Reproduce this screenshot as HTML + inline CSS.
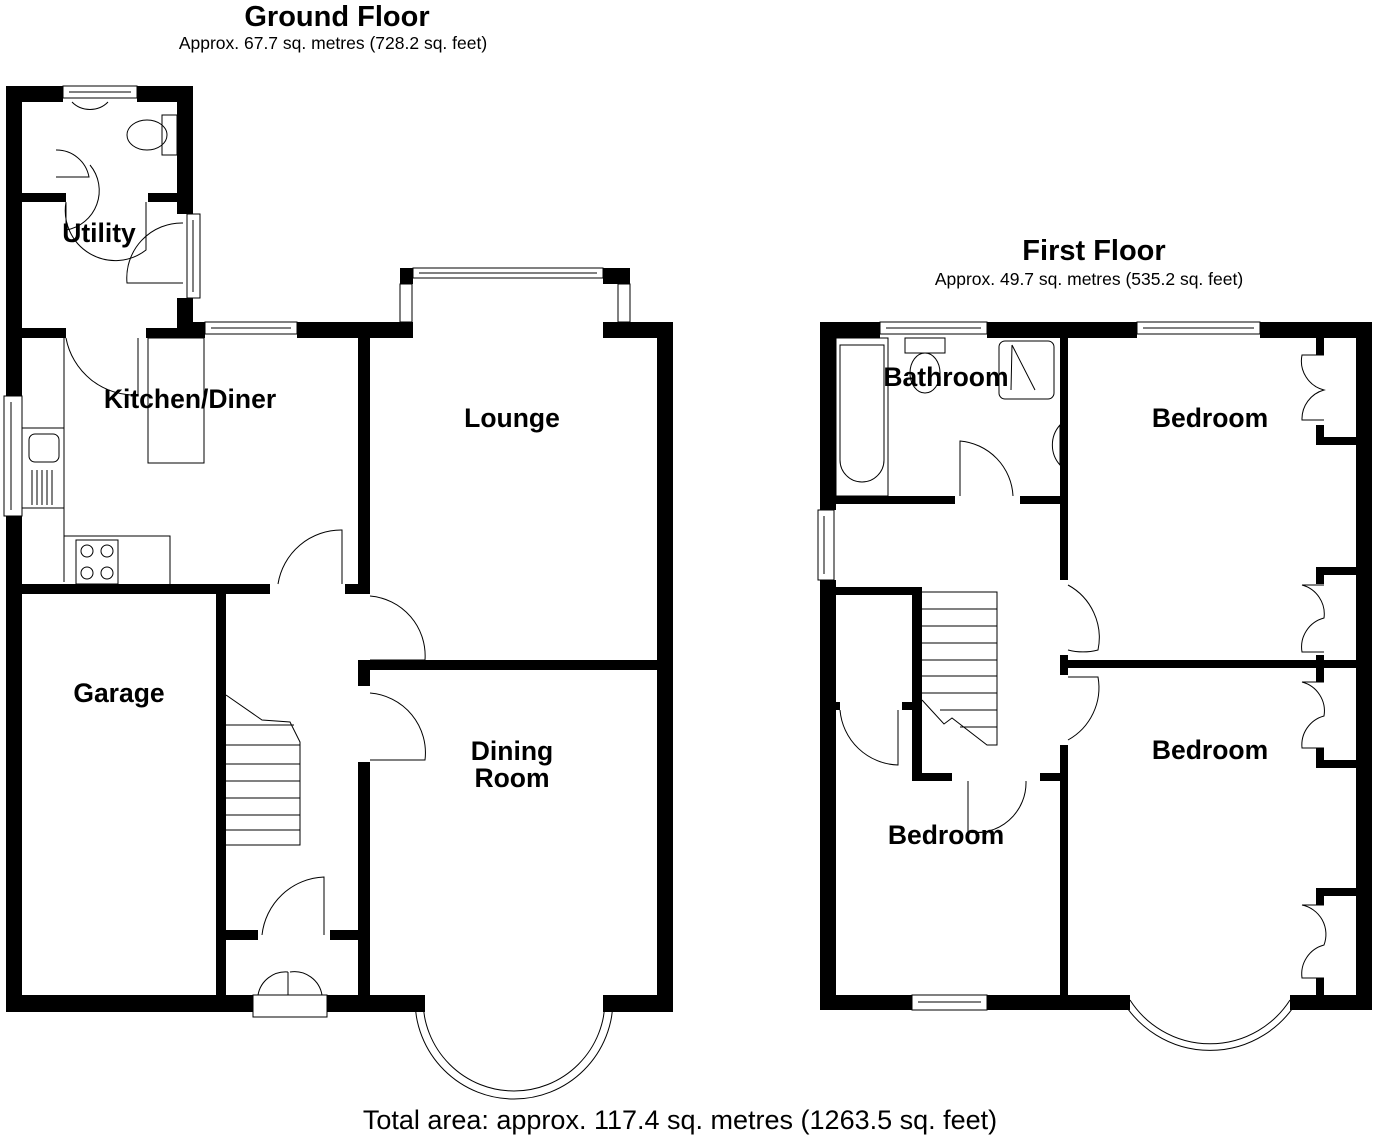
<!DOCTYPE html>
<html><head><meta charset="utf-8"><style>
html,body{margin:0;padding:0;background:#fff;}
svg{display:block;}
text{font-family:"Liberation Sans",Arial,sans-serif;fill:#000;}
.r{font-weight:bold;font-size:26.5px;text-anchor:middle;}
</style></head><body>
<svg width="1376" height="1139" viewBox="0 0 1376 1139" xmlns="http://www.w3.org/2000/svg">
<text x="337" y="26" class="r" style="font-size:29px">Ground Floor</text>
<text x="333" y="49" text-anchor="middle" style="font-size:17.5px">Approx. 67.7 sq. metres (728.2 sq. feet)</text>
<text x="1094" y="260" class="r" style="font-size:29px">First Floor</text>
<text x="1089" y="285" text-anchor="middle" style="font-size:17.5px">Approx. 49.7 sq. metres (535.2 sq. feet)</text>
<text x="680" y="1129" text-anchor="middle" style="font-size:27px">Total area: approx. 117.4 sq. metres (1263.5 sq. feet)</text>

<g fill="#000">
<rect x="6" y="86" width="16" height="310"/>
<rect x="6" y="516" width="16" height="496"/>
<rect x="6" y="86" width="57" height="16"/>
<rect x="137" y="86" width="56" height="16"/>
<rect x="177" y="86" width="16" height="128"/>
<rect x="177" y="298" width="16" height="40"/>
<rect x="22" y="193" width="44" height="9"/>
<rect x="148" y="193" width="29" height="9"/>
<rect x="22" y="328" width="44" height="10"/>
<rect x="146" y="328" width="47" height="10"/>
<rect x="177" y="322" width="28" height="16"/>
<rect x="297" y="322" width="116" height="16"/>
<rect x="400" y="268" width="13" height="16"/>
<rect x="603" y="268" width="27" height="16"/>
<rect x="603" y="322" width="70" height="16"/>
<rect x="657" y="322" width="16" height="690"/>
<rect x="358" y="338" width="12" height="250"/>
<rect x="358" y="660" width="315" height="10"/>
<rect x="358" y="670" width="12" height="16"/>
<rect x="358" y="762" width="12" height="233"/>
<rect x="22" y="584" width="248" height="10"/>
<rect x="345" y="584" width="25" height="10"/>
<rect x="216" y="594" width="10" height="401"/>
<rect x="226" y="930" width="32" height="10"/>
<rect x="330" y="930" width="35" height="10"/>
<rect x="6" y="995" width="247" height="17"/>
<rect x="327" y="995" width="98" height="17"/>
<rect x="603" y="995" width="70" height="17"/>
<rect x="820" y="322" width="16" height="188"/>
<rect x="820" y="580" width="16" height="430"/>
<rect x="820" y="322" width="60" height="16"/>
<rect x="987" y="322" width="150" height="16"/>
<rect x="1260" y="322" width="112" height="16"/>
<rect x="1356" y="322" width="16" height="688"/>
<rect x="820" y="995" width="92" height="15"/>
<rect x="987" y="995" width="143" height="15"/>
<rect x="1290" y="995" width="82" height="15"/>
<rect x="1060" y="338" width="8" height="242"/>
<rect x="1060" y="655" width="8" height="20"/>
<rect x="1060" y="745" width="8" height="250"/>
<rect x="1060" y="660" width="296" height="8"/>
<rect x="836" y="496" width="119" height="8"/>
<rect x="1020" y="496" width="40" height="8"/>
<rect x="836" y="587" width="86" height="8"/>
<rect x="912" y="587" width="10" height="194"/>
<rect x="912" y="773" width="40" height="8"/>
<rect x="1040" y="773" width="28" height="8"/>
<rect x="902" y="702" width="10" height="8"/>
<rect x="836" y="702" width="4" height="8"/>
<rect x="1316" y="338" width="8" height="17"/>
<rect x="1316" y="425" width="8" height="20"/>
<rect x="1316" y="437" width="40" height="8"/>
<rect x="1316" y="567" width="40" height="8"/>
<rect x="1316" y="567" width="8" height="17"/>
<rect x="1316" y="655" width="8" height="27"/>
<rect x="1316" y="748" width="8" height="20"/>
<rect x="1316" y="760" width="40" height="8"/>
<rect x="1316" y="888" width="40" height="8"/>
<rect x="1316" y="888" width="8" height="17"/>
<rect x="1316" y="978" width="8" height="17"/>
</g>

<g fill="none" stroke="#000" stroke-width="1">
<rect x="63" y="86" width="74" height="12"/><line x1="69" y1="92" x2="131" y2="92"/>
<rect x="187" y="214" width="13" height="84"/><line x1="193" y1="220" x2="193" y2="292"/>
<rect x="205" y="322" width="92" height="12"/><line x1="211" y1="328" x2="291" y2="328"/>
<rect x="413" y="268" width="190" height="10"/><line x1="419" y1="273" x2="597" y2="273"/>
<rect x="400" y="284" width="12" height="38"/><rect x="618" y="284" width="12" height="38"/>
<rect x="4" y="396" width="18" height="120"/><line x1="11" y1="402" x2="11" y2="510"/>
<rect x="253" y="995" width="74" height="22"/>
<path d="M423 1000 A91 91 0 0 0 605 1000"/>
<path d="M415 1000 A99 99 0 0 0 613 1000"/>
<path d="M66 203 L66 230 M66 230 A40 40 0 0 0 90 165"/>
<path d="M56 150 A33 33 0 0 1 89 177 L56 177"/>
<path d="M146 202 L146 250 A50 50 0 0 1 66 202"/>
<path d="M183 223 A55 55 0 0 0 127 283 L183 283"/>
<path d="M66 338 A70 70 0 0 0 138 395 L138 338"/>
<path d="M64 338 L64 582 M64 536 L170 536 L170 584"/>
<rect x="148" y="338" width="56" height="125"/>
<path d="M278 584 A64 64 0 0 1 342 530 L342 584"/>
<path d="M370 596 A60 60 0 0 1 425 660 L370 660"/>
<path d="M370 693 A60 60 0 0 1 425 760 L370 760"/>
<path d="M262 935 A65 65 0 0 1 324 877 L324 935"/>
<path d="M258 995 A28 28 0 0 1 288 972 M288 972 L288 995 M322 995 A28 28 0 0 0 290 972"/>
<path d="M226 695 L262 720 L290 722 L300 742 L300 845 L226 845"/>
<path d="M226 725 H294 M226 745 H300 M226 764 H300 M226 781 H300 M226 798 H300 M226 815 H300 M226 830 H300"/>
<rect x="22" y="428" width="42" height="80"/><rect x="29" y="434" width="30" height="28" rx="6"/>
<path d="M32 470 V505 M37 470 V505 M42 470 V505 M47 470 V505 M52 470 V505"/>
<rect x="76" y="540" width="42" height="44"/>
<circle cx="87" cy="551" r="6"/><circle cx="107" cy="551" r="6"/><circle cx="87" cy="573" r="6"/><circle cx="107" cy="573" r="6"/>
<ellipse cx="147" cy="135" rx="20" ry="15"/><rect x="162" y="115" width="15" height="40"/>
<path d="M72 102 A24 22 0 0 0 108 102"/>
<rect x="880" y="322" width="107" height="12"/><line x1="886" y1="328" x2="981" y2="328"/>
<rect x="1137" y="322" width="123" height="12"/><line x1="1143" y1="328" x2="1254" y2="328"/>
<rect x="818" y="510" width="16" height="70"/><line x1="824" y1="516" x2="824" y2="574"/>
<rect x="912" y="995" width="75" height="15"/><line x1="918" y1="1002" x2="981" y2="1002"/>
<path d="M1130 1000 A95 95 0 0 0 1290 1000"/>
<path d="M1122 1000 A102 102 0 0 0 1298 1000"/>
<rect x="836" y="338" width="52" height="158"/>
<path d="M840 345 H884 V460 A22 22 0 0 1 840 460 Z"/>
<rect x="905" y="338" width="40" height="15"/><ellipse cx="925" cy="373" rx="15" ry="20"/>
<rect x="999" y="341" width="55" height="58" rx="6"/><path d="M1011 390 L1012 345 M1012 345 L1035 390"/>
<path d="M1060 425 A30 30 0 0 0 1060 465 Z"/>
<path d="M960 496 L960 441 A58 58 0 0 1 1013 496"/>
<path d="M1068 585 A60 60 0 0 1 1098 650 A60 60 0 0 1 1068 650"/>
<path d="M1068 677 H1098 A60 60 0 0 1 1068 740"/>
<path d="M840 710 A60 60 0 0 0 898 765 L898 710"/>
<path d="M968 781 L968 832 A50 50 0 0 0 1026 781"/>
<path d="M1324 355 H1302 A30 30 0 0 0 1324 390 A30 30 0 0 0 1302 420 H1324"/>
<path d="M1324 585 H1302 A30 30 0 0 1 1324 618 A30 30 0 0 0 1302 652 H1324"/>
<path d="M1324 682 H1302 A30 30 0 0 1 1324 716 A30 30 0 0 0 1302 748 H1324"/>
<path d="M1324 905 H1302 A30 30 0 0 1 1324 945 A30 30 0 0 0 1302 978 H1324"/>
<path d="M922 592 H997 V745 L987 745 L952 718 L944 724 L922 700"/>
<path d="M922 609 H997 M922 626 H997 M922 643 H997 M922 660 H997 M922 676 H997 M922 693 H997 M940 710 H997 M960 727 H997"/>
</g>

<text x="99" y="242" class="r">Utility</text>
<text x="190" y="408" class="r">Kitchen/Diner</text>
<text x="512" y="427" class="r">Lounge</text>
<text x="119" y="702" class="r">Garage</text>
<text x="512" y="760" class="r">Dining</text>
<text x="512" y="787" class="r">Room</text>
<text x="946" y="386" class="r">Bathroom</text>
<text x="1210" y="427" class="r">Bedroom</text>
<text x="1210" y="759" class="r">Bedroom</text>
<text x="946" y="844" class="r">Bedroom</text>
</svg>
</body></html>
